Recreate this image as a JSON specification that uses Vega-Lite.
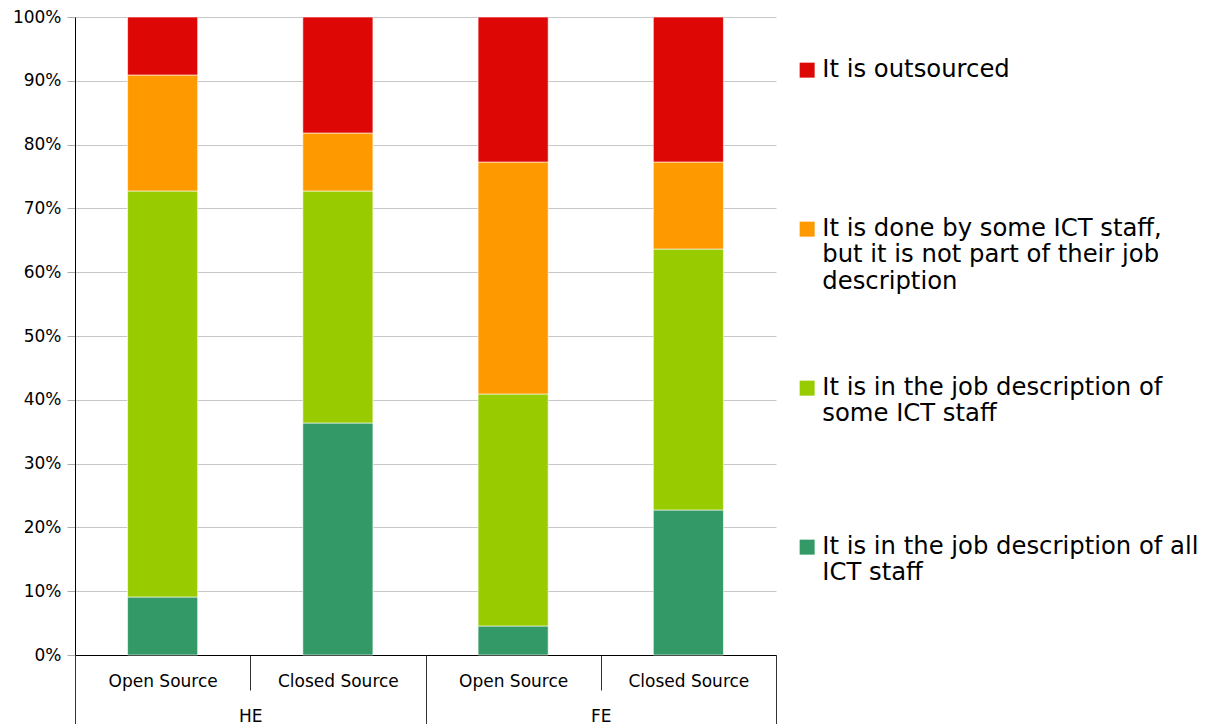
{
  "$schema": "https://vega.github.io/schema/vega-lite/v6.json",
  "autosize": {"type": "none"},
  "padding": {"left": 75, "top": 17, "right": 432, "bottom": 69},
  "width": 701,
  "height": 638,
  "background": "white",
  "config": {
    "view": {"stroke": null},
    "font": "DejaVu Sans"
  },
  "data": {
    "values": [
      {"bar": "HE Open Source", "level": "HE", "answer": "It is in the job description of all ICT staff", "rank": 1, "pct": 9.09},
      {"bar": "HE Open Source", "level": "HE", "answer": "It is in the job description of some ICT staff", "rank": 2, "pct": 63.64},
      {"bar": "HE Open Source", "level": "HE", "answer": "It is done by some ICT staff, but it is not part of their job description", "rank": 3, "pct": 18.18},
      {"bar": "HE Open Source", "level": "HE", "answer": "It is outsourced", "rank": 4, "pct": 9.09},
      {"bar": "HE Closed Source", "level": "HE", "answer": "It is in the job description of all ICT staff", "rank": 1, "pct": 36.36},
      {"bar": "HE Closed Source", "level": "HE", "answer": "It is in the job description of some ICT staff", "rank": 2, "pct": 36.36},
      {"bar": "HE Closed Source", "level": "HE", "answer": "It is done by some ICT staff, but it is not part of their job description", "rank": 3, "pct": 9.09},
      {"bar": "HE Closed Source", "level": "HE", "answer": "It is outsourced", "rank": 4, "pct": 18.18},
      {"bar": "FE Open Source", "level": "FE", "answer": "It is in the job description of all ICT staff", "rank": 1, "pct": 4.55},
      {"bar": "FE Open Source", "level": "FE", "answer": "It is in the job description of some ICT staff", "rank": 2, "pct": 36.36},
      {"bar": "FE Open Source", "level": "FE", "answer": "It is done by some ICT staff, but it is not part of their job description", "rank": 3, "pct": 36.36},
      {"bar": "FE Open Source", "level": "FE", "answer": "It is outsourced", "rank": 4, "pct": 22.73},
      {"bar": "FE Closed Source", "level": "FE", "answer": "It is in the job description of all ICT staff", "rank": 1, "pct": 22.73},
      {"bar": "FE Closed Source", "level": "FE", "answer": "It is in the job description of some ICT staff", "rank": 2, "pct": 40.91},
      {"bar": "FE Closed Source", "level": "FE", "answer": "It is done by some ICT staff, but it is not part of their job description", "rank": 3, "pct": 13.64},
      {"bar": "FE Closed Source", "level": "FE", "answer": "It is outsourced", "rank": 4, "pct": 22.73}
    ]
  },
  "layer": [
    {
      "mark": {"type": "bar", "width": {"band": 0.4}, "stroke": "white", "strokeOpacity": 0.6, "strokeWidth": 1},
      "encoding": {
        "x": {
          "field": "bar", "type": "nominal",
          "sort": ["HE Open Source", "HE Closed Source", "FE Open Source", "FE Closed Source"],
          "scale": {"type": "band", "paddingInner": 0, "paddingOuter": 0},
          "axis": {
            "orient": "bottom", "title": null, "labelAngle": 0,
            "labelExpr": "slice(datum.label, 3)",
            "tickBand": "extent", "tickSize": 35, "tickColor": "#333333", "tickWidth": 1,
            "domainColor": "#000000", "domainWidth": 1,
            "labelPadding": -16.5, "labelFontSize": 17, "labelColor": "#000000",
            "labelFont": "DejaVu Sans", "labelBaseline": "top"
          }
        },
        "y": {
          "field": "pct", "type": "quantitative", "stack": "normalize",
          "scale": {"domain": [0, 1], "nice": false},
          "axis": {
            "title": null, "format": ".0%", "values": [0, 0.1, 0.2, 0.3, 0.4, 0.5, 0.6, 0.7, 0.8, 0.9, 1],
            "grid": true, "gridColor": "#c8c8c8", "gridWidth": 1,
            "tickSize": 8, "tickColor": "#aaaaaa", "domainColor": "#000000",
            "labelFontSize": 17, "labelColor": "#000000", "labelPadding": 6, "labelFont": "DejaVu Sans"
          }
        },
        "order": {"field": "rank", "type": "quantitative", "sort": "ascending"},
        "color": {
          "field": "answer", "type": "nominal",
          "scale": {
            "domain": [
              "It is outsourced",
              "It is done by some ICT staff, but it is not part of their job description",
              "It is in the job description of some ICT staff",
              "It is in the job description of all ICT staff"
            ],
            "range": ["#dd0806", "#ff9900", "#99cc00", "#339966"]
          },
          "legend": {
            "title": null, "orient": "none", "legendX": 720, "legendY": 41,
            "padding": 0, "symbolType": "square", "symbolSize": 225, "symbolStrokeWidth": 0,
            "labelFontSize": 24.3, "labelColor": "#000000", "labelFont": "DejaVu Sans",
            "labelLimit": 500, "labelOffset": 3, "labelBaseline": "middle",
            "gridAlign": "all", "rowPadding": 81,
            "labelExpr": "datum.label == 'It is done by some ICT staff, but it is not part of their job description' ? ['It is done by some ICT staff,', 'but it is not part of their job', 'description'] : datum.label == 'It is in the job description of some ICT staff' ? ['It is in the job description of', 'some ICT staff'] : datum.label == 'It is in the job description of all ICT staff' ? ['It is in the job description of all', 'ICT staff'] : datum.label"
          }
        }
      }
    },
    {
      "mark": {"type": "rule", "opacity": 0},
      "encoding": {
        "x": {
          "field": "level", "type": "nominal", "sort": ["HE", "FE"],
          "scale": {"type": "band", "paddingInner": 0, "paddingOuter": 0},
          "axis": {
            "orient": "bottom", "title": null, "labelAngle": 0, "domain": false,
            "tickBand": "extent", "tickSize": 69, "tickColor": "#333333", "tickWidth": 1,
            "labelPadding": -16, "labelFontSize": 17, "labelColor": "#000000",
            "labelFont": "DejaVu Sans", "labelBaseline": "top"
          }
        }
      }
    }
  ],
  "resolve": {"scale": {"x": "independent"}, "axis": {"x": "independent"}}
}
